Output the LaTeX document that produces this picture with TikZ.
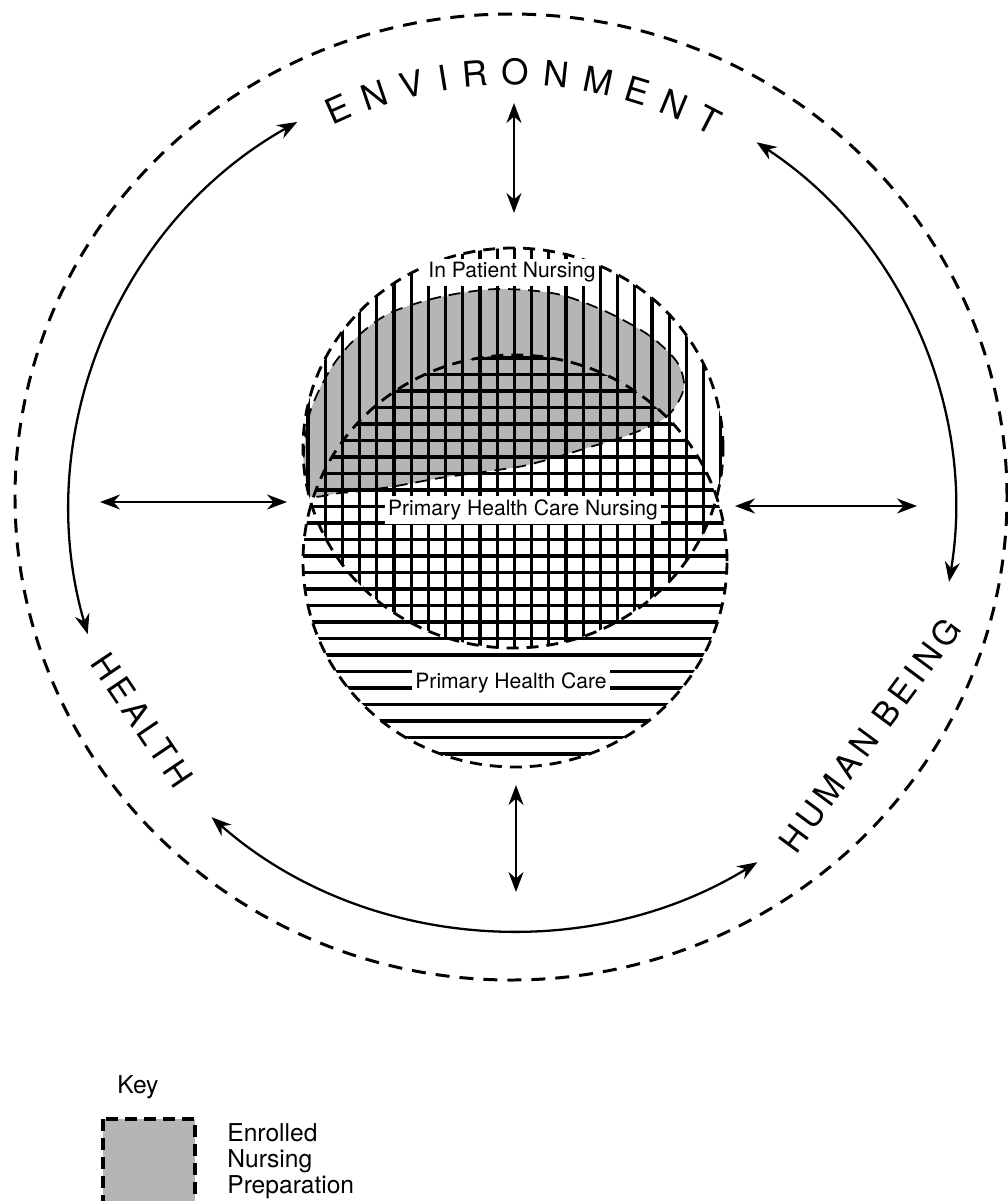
\documentclass[tikz,border=0pt]{standalone}
\usepackage{fontspec}
\setmainfont{TeX Gyre Heros}
\newfontfamily\spacedfont[LetterSpace=15]{TeX Gyre Heros}
\usepackage{tikz}
\usepackage{xcolor}
\definecolor{enrolGrey}{HTML}{B5B5B5}
\usetikzlibrary{arrows.meta}

\tikzset{
  outerring/.style={line width=1.7pt, dash pattern=on 0.28cm off 0.2cm},
  zoneline/.style={line width=1.6pt, dash pattern=on 0.24cm off 0.16cm},
  hatchline/.style={line width=1.8pt},
  link/.style={line width=1.3pt,
    {Stealth[length=0.4cm,width=0.3cm,inset=0.13cm]}-{Stealth[length=0.4cm,width=0.3cm,inset=0.13cm]}},
  bigletter/.style={font=\fontsize{20}{20}\selectfont, inner sep=0pt},
  spacedword/.style={font=\spacedfont\fontsize{19}{19}\selectfont, inner sep=0pt},
  zonelabel/.style={font=\fontsize{12}{12}\selectfont, fill=white, inner sep=2pt},
  keytext/.style={font=\fontsize{14}{14.8}\selectfont, align=left, inner sep=0pt},
  keybox/.style={fill=enrolGrey, line width=2pt, dash pattern=on 0.24cm off 0.14cm}
}

\begin{document}
\begin{tikzpicture}[x=0.02cm, y=0.02cm]
  \useasboundingbox (0,0) rectangle (1008,-1201);
  % outer ring
  \draw[outerring] (511,-497) ellipse [x radius=496, y radius=483];

  % enrolled nursing preparation
  \begin{scope}
    \clip (513,-448) ellipse [x radius=210, y radius=200];
    \filldraw[fill=enrolGrey, zoneline, line width=1pt] plot[smooth cycle] coordinates {
      (305,-492) (308,-420) (330,-370) (357,-337) (390,-313) (440,-297)
      (497,-289) (557,-294) (607,-312) (650,-336) (677,-362) (684,-387)
      (673,-410) (657,-423) (623,-437) (590,-447) (557,-457) (523,-466)
      (490,-471) (440,-478) (390,-487) (340,-493)};
  \end{scope}
  % in patient nursing
  \begin{scope}
    \clip (513,-448) ellipse [x radius=210, y radius=200];
    \foreach \x in {308,325.2,...,725}
      \draw[hatchline] (\x,-240) -- (\x,-660);
  \end{scope}
  % primary health care
  \begin{scope}
    \clip (515,-561) ellipse [x radius=212, y radius=206];
    \foreach \y in {358,374.5,...,770}
      \draw[hatchline] (295,-\y) -- (735,-\y);
  \end{scope}
  \draw[zoneline] (513,-448) ellipse [x radius=210, y radius=200];
  \draw[zoneline] (515,-561) ellipse [x radius=212, y radius=206];

  \node[zonelabel] (inpatient) at (512,-272) {In Patient Nursing};
  \node[zonelabel] (phcn) at (523,-510) {Primary Health Care Nursing};
  \node[zonelabel] (phc) at (511,-683) {Primary Health Care};

  % outer labels
  \foreach \ang/\ch [count=\i] in {114/E,108.8/N,103.5/V,99.3/I,94.9/R,89.5/O,84/N,78.4/M,72.9/E,67.7/N,62.6/T}
    \node[bigletter, rotate=\ang-90] (env\i) at ([shift={(\ang:428)}]512,-500) {\ch};
  \node[spacedword, rotate=-56] (health) at (142,-720) {HEALTH};
  \node[spacedword, rotate=53.5] (human) at (870,-735) {HUMAN BEING};

  % straight arrows
  \coordinate (envA) at (514,-103);
  \coordinate (envB) at (514,-213);
  \coordinate (humA) at (516,-785);
  \coordinate (humB) at (516,-892);
  \coordinate (healA) at (100,-502);
  \coordinate (healB) at (287,-502);
  \coordinate (rightA) at (735,-506);
  \coordinate (rightB) at (917,-506);
  \draw[link] (envA) -- (envB);
  \draw[link] (humA) -- (humB);
  \draw[link] (healA) -- (healB);
  \draw[link] (rightA) -- (rightB);

  % curved arrows
  \coordinate (ringC) at (515,-510);
  \draw[link] ([shift={(119.3:445)}]ringC) arc[start angle=119.3, end angle=196.2, radius=445];
  \draw[link] ([shift={(56.7:440)}]ringC) arc[start angle=56.7, end angle=-9.4, radius=440];
  \draw[link] ([shift={(227:445 and 420)}]ringC) arc[start angle=227, end angle=303, x radius=445, y radius=420];

  % key
  \node[keytext, anchor=west] (key) at (117,-1087) {Key};
  \draw[keybox] (103,-1119) rectangle (195,-1215);
  \node[keytext, anchor=north west] (enrolled) at (227,-1123) {Enrolled\\Nursing\\Preparation};
\end{tikzpicture}
\end{document}
